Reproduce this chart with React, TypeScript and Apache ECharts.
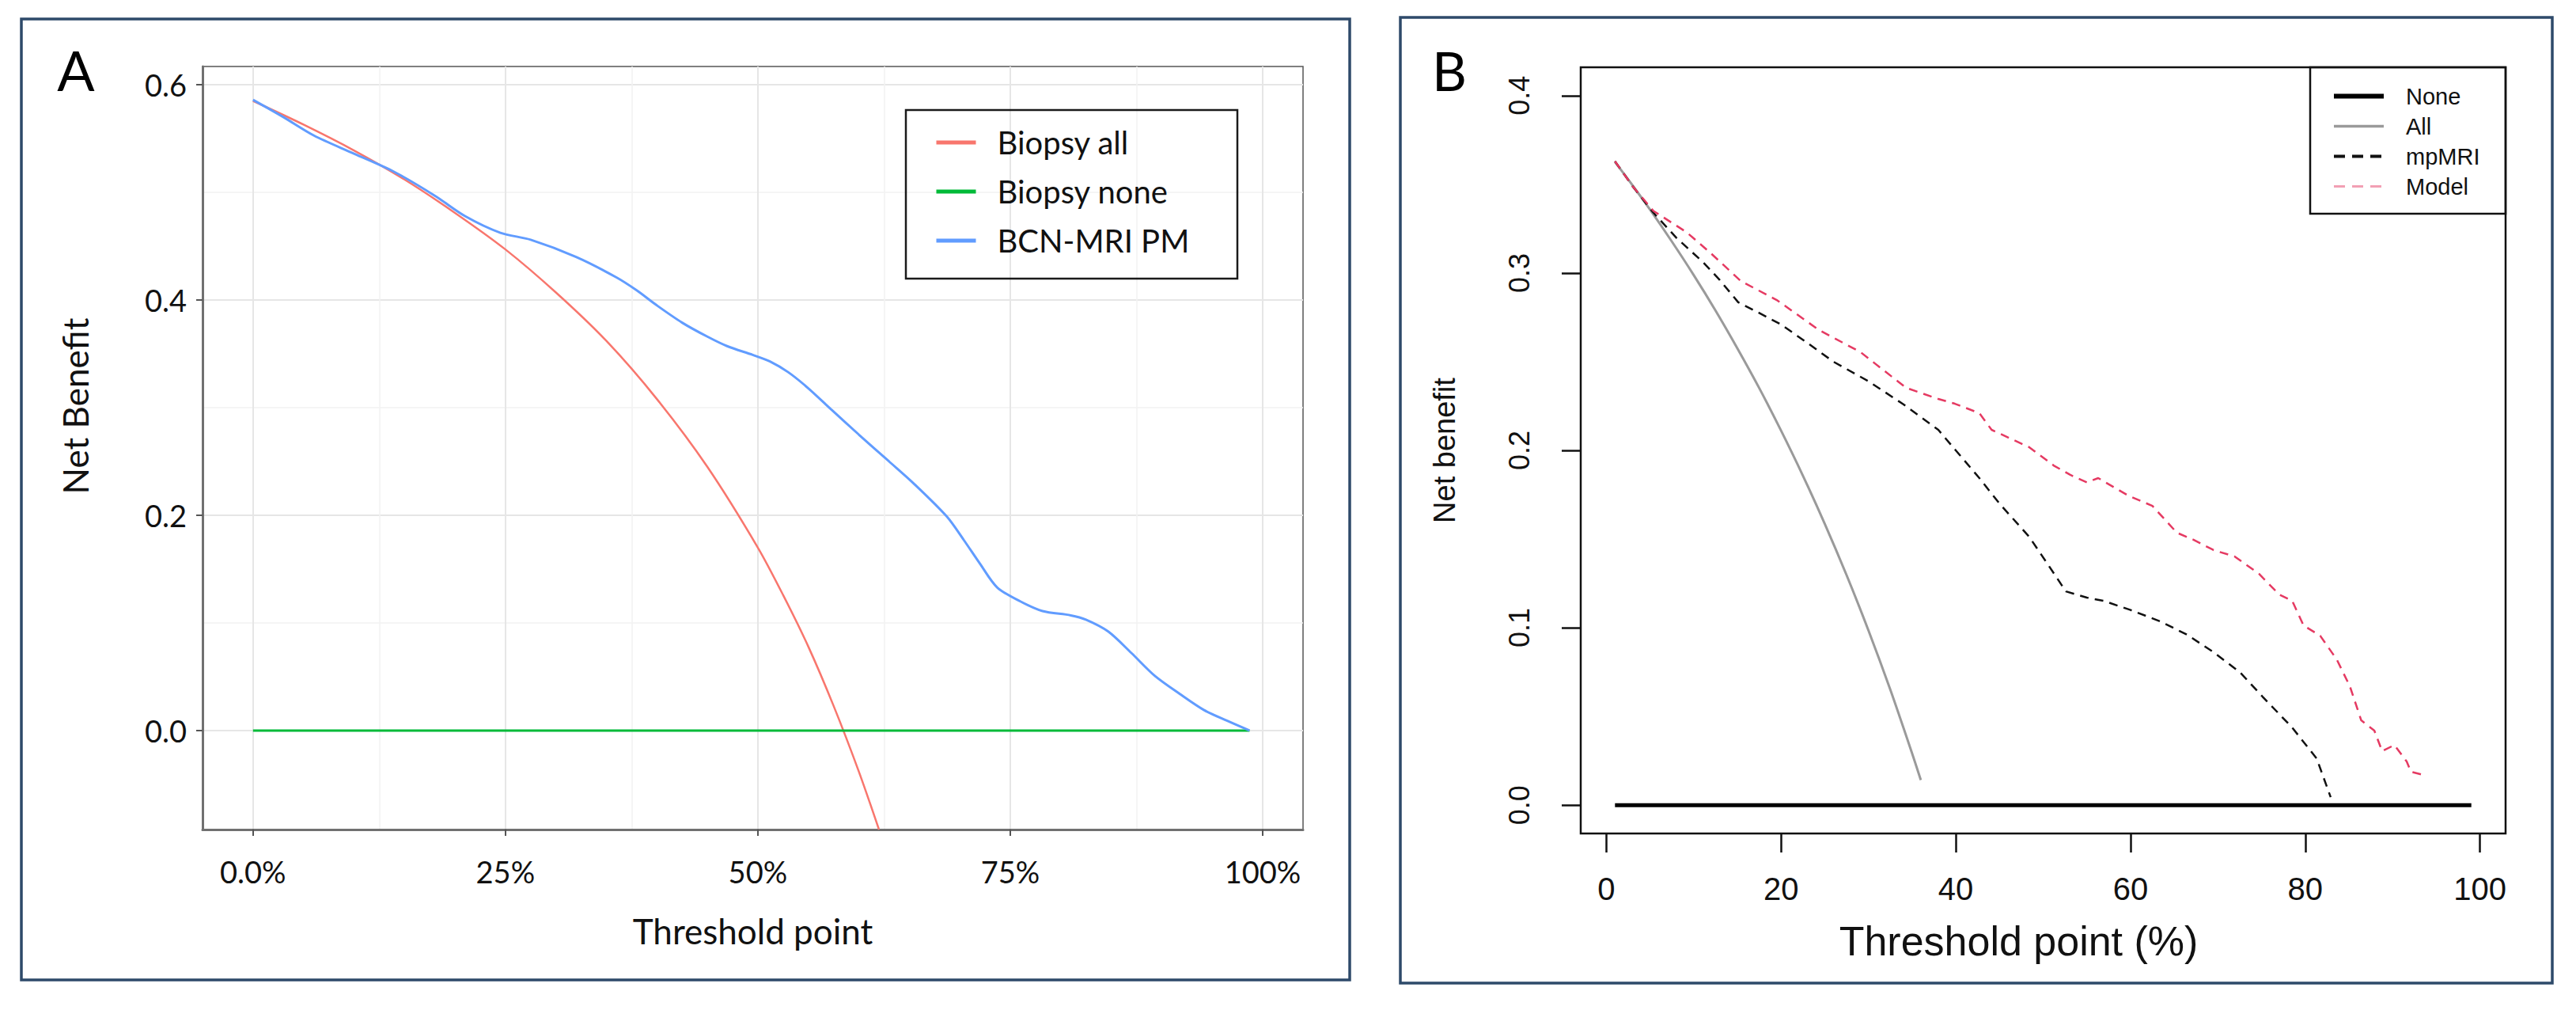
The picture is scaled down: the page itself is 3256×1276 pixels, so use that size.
import React, { useEffect, useRef } from "react";
import * as echarts from "echarts";

// ---------- Panel A data ----------
const aTickValuesX = [0, 25, 50, 75, 100];
const aTickLabelsX = ["0.0%", "25%", "50%", "75%", "100%"];
const aTickValuesY = [0, 0.2, 0.4, 0.6];
const aTickLabelsY = ["0.0", "0.2", "0.4", "0.6"];
const aMinorX = [12.5, 37.5, 62.5, 87.5];
const aMinorY = [0.1, 0.3, 0.5];

const biopsyAllX = [0, 5, 10, 15, 20, 25, 30, 35, 40, 45, 50, 52.5, 55, 57.5, 60, 62];
const biopsyAllY = [0.585, 0.563, 0.539, 0.512, 0.481, 0.447, 0.407, 0.362, 0.308, 0.245, 0.17, 0.126, 0.078, 0.023, -0.038, -0.092];

const biopsyNoneX = [0, 98.7];
const biopsyNoneY = [0, 0];

const bcnX = [0, 3, 6, 10, 14, 18, 21, 24.5, 27.5, 32, 36, 38, 40, 42.5, 45, 47, 49.5, 51.2, 53, 55, 57.3, 60, 63, 65.5, 68.7, 70.4, 72, 73.7, 76, 78.2, 81, 82.5, 84.7, 87, 89.3, 91.8, 94.2, 96.5, 98.7];
const bcnY = [0.586, 0.57, 0.553, 0.536, 0.519, 0.497, 0.478, 0.4625, 0.456, 0.44, 0.421, 0.409, 0.395, 0.379, 0.366, 0.357, 0.349, 0.343, 0.333, 0.318, 0.298, 0.275, 0.25, 0.229, 0.199, 0.177, 0.155, 0.133, 0.12, 0.111, 0.107, 0.103, 0.092, 0.072, 0.051, 0.034, 0.019, 0.009, 0.0];

// ---------- Panel B data ----------
const bTickValuesX = [0, 20, 40, 60, 80, 100];
const bTickLabelsX = ["0", "20", "40", "60", "80", "100"];
const bTickValuesY = [0, 0.1, 0.2, 0.3, 0.4];
const bTickLabelsY = ["0.0", "0.1", "0.2", "0.3", "0.4"];

const noneX = [1, 99];
const noneY = [0, 0];

const allX = [1, 3, 5, 7.5, 10, 12.5, 15, 17.5, 20, 22.5, 25, 27.5, 30, 32.5, 35, 36];
const allY = [0.3626, 0.3495, 0.3358, 0.3178, 0.2989, 0.2789, 0.2576, 0.2352, 0.2112, 0.1858, 0.1587, 0.1297, 0.0986, 0.0652, 0.0292, 0.0141];

const mpmriX = [1, 3, 5.4, 8, 11.1, 13, 15.1, 17.3, 20, 22.9, 26, 30, 34, 38, 40, 42.7, 45, 48.4, 50.5, 52.6, 55, 56.9, 60, 63.4, 66.5, 69.5, 72.5, 75.1, 78.5, 81.3, 82.9];
const mpmriY = [0.363, 0.349, 0.334, 0.32, 0.306, 0.296, 0.2835, 0.278, 0.271, 0.261, 0.25, 0.239, 0.226, 0.2116, 0.2, 0.1844, 0.17, 0.1513, 0.136, 0.1205, 0.117, 0.1152, 0.11, 0.1036, 0.096, 0.0862, 0.075, 0.0612, 0.0437, 0.0263, 0.0045];

const modelX = [1, 3, 5.4, 9.2, 12, 15.4, 19.6, 24.3, 29.1, 34.3, 38, 39.9, 42.7, 44.1, 48.4, 51.2, 53.1, 55, 56.3, 59.7, 62.5, 65.3, 67.2, 69.5, 71.9, 74.7, 77, 78.5, 79.8, 81.7, 83.6, 85.1, 86.4, 87.9, 88.8, 90.2, 91.6, 92.1, 93.5];
const modelY = [0.363, 0.349, 0.335, 0.323, 0.311, 0.2955, 0.2845, 0.268, 0.2554, 0.2353, 0.229, 0.2263, 0.221, 0.2116, 0.2018, 0.1915, 0.1862, 0.182, 0.1844, 0.1746, 0.1687, 0.1536, 0.1496, 0.1438, 0.1402, 0.1304, 0.1188, 0.1152, 0.1013, 0.0955, 0.0821, 0.067, 0.0478, 0.042, 0.0304, 0.0339, 0.0246, 0.0188, 0.017];

const pairs = (xs: number[], ys: number[]) => xs.map((x, i) => [x, ys[i]]);
const labelOf = (vals: number[], labels: string[]) => (v: number) => {
  const i = vals.findIndex((t) => Math.abs(t - v) < 1e-9);
  return i >= 0 ? labels[i] : "";
};

const FONT_A = "Lato";
const FONT_B = "Liberation Sans";

const hiddenSymbol = { color: "transparent", borderColor: "transparent", borderWidth: 0, opacity: 0 };

function buildOption(): any {
  return {
    animation: false,
    backgroundColor: "#ffffff",
    grid: [
      { left: 256, top: 84, width: 1391, height: 964, show: true, borderColor: "#555", borderWidth: 1.5, backgroundColor: "#fff" },
      { left: 1998, top: 85, width: 1169, height: 968, show: true, borderColor: "#111", borderWidth: 2.5, backgroundColor: "#fff" },
    ],
    xAxis: [
      {
        gridIndex: 0, type: "value", min: -5, max: 104, position: "bottom",
        axisLine: { show: true, onZero: false, lineStyle: { color: "#707070", width: 3 } },
        axisTick: { show: true, length: 8, customValues: aTickValuesX, lineStyle: { color: "#555", width: 2 } },
        axisLabel: { customValues: aTickValuesX, formatter: labelOf(aTickValuesX, aTickLabelsX), fontFamily: FONT_A, fontSize: 38, color: "#111", margin: 34 },
        splitLine: { show: true, lineStyle: { color: "#e6e6e6", width: 2 } },
        name: "Threshold point", nameLocation: "middle", nameGap: 106,
        nameTextStyle: { fontFamily: FONT_A, fontSize: 44, color: "#111" },
      },
      {
        gridIndex: 0, type: "value", min: -5, max: 104, position: "top",
        axisLine: { show: false, onZero: false }, axisLabel: { show: false },
        axisTick: { show: false, customValues: aMinorX },
        splitLine: { show: true, lineStyle: { color: "#f2f2f2", width: 1.5 } },
      },
      {
        gridIndex: 1, type: "value", min: -2.92, max: 102.92, position: "bottom",
        axisLine: { show: false, onZero: false },
        axisTick: { show: true, length: 24, customValues: bTickValuesX, lineStyle: { color: "#111", width: 2.5 } },
        axisLabel: { customValues: bTickValuesX, formatter: labelOf(bTickValuesX, bTickLabelsX), fontFamily: FONT_B, fontSize: 40, color: "#111", margin: 50 },
        splitLine: { show: false },
        name: "Threshold point (%)", nameLocation: "middle", nameGap: 110,
        nameTextStyle: { fontFamily: FONT_B, fontSize: 52, color: "#111", padding: [0, 62, 0, 0] },
      },
    ],
    yAxis: [
      {
        gridIndex: 0, type: "value", min: -0.092, max: 0.617, position: "left",
        axisLine: { show: true, onZero: false, lineStyle: { color: "#707070", width: 3 } },
        axisTick: { show: true, length: 8, customValues: aTickValuesY, lineStyle: { color: "#555", width: 2 } },
        axisLabel: { customValues: aTickValuesY, formatter: labelOf(aTickValuesY, aTickLabelsY), fontFamily: FONT_A, fontSize: 38, color: "#111", margin: 20 },
        splitLine: { show: true, lineStyle: { color: "#e6e6e6", width: 2 } },
      },
      {
        gridIndex: 0, type: "value", min: -0.092, max: 0.617, position: "right",
        axisLine: { show: false, onZero: false }, axisLabel: { show: false },
        axisTick: { show: false, customValues: aMinorY },
        splitLine: { show: true, lineStyle: { color: "#f2f2f2", width: 1.5 } },
      },
      {
        gridIndex: 1, type: "value", min: -0.016, max: 0.416, position: "left",
        axisLine: { show: false, onZero: false },
        axisTick: { show: true, length: 24, customValues: bTickValuesY, lineStyle: { color: "#111", width: 2.5 } },
        axisLabel: { customValues: bTickValuesY, formatter: labelOf(bTickValuesY, bTickLabelsY), rotate: 90, fontFamily: FONT_B, fontSize: 36, color: "#111", margin: 60 },
        splitLine: { show: false },
        name: "Net benefit", nameLocation: "middle", nameRotate: 90, nameGap: 153,
        nameTextStyle: { fontFamily: FONT_B, fontSize: 38, color: "#111" },
      },
    ],
    legend: [
      {
        orient: "vertical", left: 1181, top: 160, padding: 0, itemWidth: 50, itemHeight: 20, itemGap: 22,
        textStyle: { fontFamily: FONT_A, fontSize: 40, color: "#111", padding: [0, 0, 0, 22] },
        lineStyle: { width: 5 },
        itemStyle: hiddenSymbol,
        data: ["Biopsy all", "Biopsy none", "BCN-MRI PM"],
      },
      {
        orient: "vertical", left: 2947, top: 107, padding: 0, itemWidth: 63, itemHeight: 14, itemGap: 9,
        textStyle: { fontFamily: FONT_B, fontSize: 29, color: "#111", padding: [0, 0, 0, 23] },
        itemStyle: hiddenSymbol,
        data: [
          { name: "None", lineStyle: { color: "#000", width: 6, type: "solid" } },
          { name: "All", lineStyle: { color: "#9a9a9a", width: 3.5, type: "solid" } },
          { name: "mpMRI", lineStyle: { color: "#111", width: 4, type: [14, 9] } },
          { name: "Model", lineStyle: { color: "#f2a0b4", width: 3, type: [14, 9] } },
        ],
      },
    ],
    series: [
      { name: "Biopsy all", type: "line", xAxisIndex: 0, yAxisIndex: 0, data: pairs(biopsyAllX, biopsyAllY), symbol: "none", smooth: 0.3, color: "#F8766D", lineStyle: { color: "#F8766D", width: 2.5 } },
      { name: "Biopsy none", type: "line", xAxisIndex: 0, yAxisIndex: 0, data: pairs(biopsyNoneX, biopsyNoneY), symbol: "none", color: "#00BA38", lineStyle: { color: "#00BA38", width: 3 } },
      { name: "BCN-MRI PM", type: "line", xAxisIndex: 0, yAxisIndex: 0, data: pairs(bcnX, bcnY), symbol: "none", smooth: 0.3, color: "#619CFF", lineStyle: { color: "#619CFF", width: 3 } },
      { name: "None", type: "line", xAxisIndex: 2, yAxisIndex: 2, data: pairs(noneX, noneY), symbol: "none", color: "#000", lineStyle: { color: "#000", width: 5 } },
      { name: "All", type: "line", xAxisIndex: 2, yAxisIndex: 2, data: pairs(allX, allY), symbol: "none", smooth: 0.3, color: "#9a9a9a", lineStyle: { color: "#9a9a9a", width: 3 } },
      { name: "mpMRI", type: "line", xAxisIndex: 2, yAxisIndex: 2, data: pairs(mpmriX, mpmriY), symbol: "none", color: "#111", lineStyle: { color: "#111", width: 2.5, type: [11, 8] } },
      { name: "Model", type: "line", xAxisIndex: 2, yAxisIndex: 2, data: pairs(modelX, modelY), symbol: "none", color: "#e53a62", lineStyle: { color: "#e53a62", width: 2.5, type: [11, 8] } },
    ],
    graphic: [
      { type: "rect", shape: { x: 27, y: 24, width: 1679, height: 1214 }, style: { fill: "none", stroke: "#2e4a6a", lineWidth: 3.5 }, z: 10 },
      { type: "rect", shape: { x: 1770, y: 22, width: 1456, height: 1220 }, style: { fill: "none", stroke: "#2e4a6a", lineWidth: 3.5 }, z: 10 },
      { type: "rect", shape: { x: 1145, y: 139, width: 419, height: 213 }, style: { fill: "none", stroke: "#1a1a1a", lineWidth: 2.5 }, z: 10 },
      { type: "rect", shape: { x: 2920, y: 85, width: 247, height: 185 }, style: { fill: "none", stroke: "#111", lineWidth: 2.5 }, z: 10 },
      { type: "text", x: 96, y: 88, style: { text: "A", fontFamily: FONT_A, fontSize: 70, fill: "#000", align: "center", verticalAlign: "middle" }, z: 10 },
      { type: "text", x: 1832, y: 88, style: { text: "B", fontFamily: FONT_A, fontSize: 68, fill: "#000", align: "center", verticalAlign: "middle" }, z: 10 },
      { type: "text", x: 95, y: 513, rotation: Math.PI / 2, style: { text: "Net Benefit", fontFamily: FONT_A, fontSize: 44, fill: "#111", align: "center", verticalAlign: "middle" }, z: 10 },
    ],
  };
}

export default function App() {
  const ref = useRef<HTMLDivElement>(null);
  useEffect(() => {
    if (!ref.current) return;
    const chart = echarts.init(ref.current, null, { renderer: "svg" });
    chart.setOption(buildOption());
    return () => chart.dispose();
  }, []);
  return (
    <div
      ref={ref}
      style={{ position: "absolute", left: 0, top: 0, width: 3256, height: 1276, background: "#ffffff" }}
    />
  );
}
